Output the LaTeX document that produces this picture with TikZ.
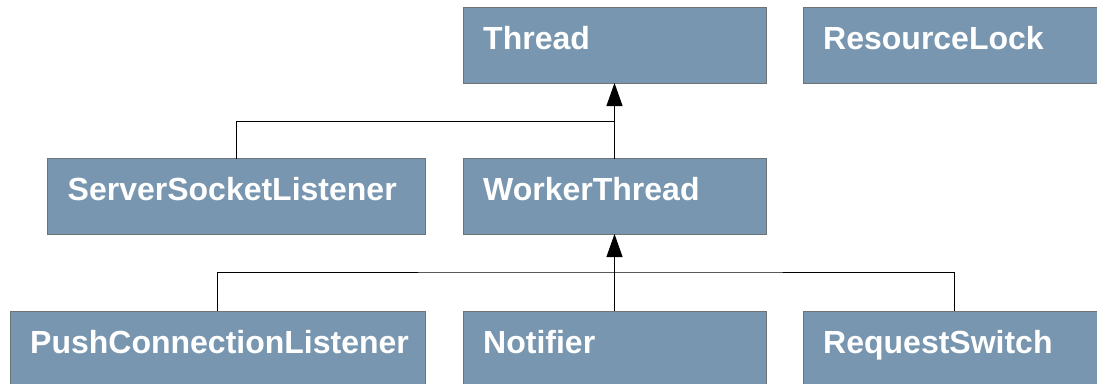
\documentclass[tikz,border=0pt]{standalone}
\usepackage{fontspec}
\setmainfont{Liberation Sans}
\usetikzlibrary{arrows.meta}
\definecolor{boxfill}{RGB}{120,150,176}
\definecolor{boxline}{RGB}{110,115,120}
\tikzset{
  cls/.style={draw=boxline, line width=0.9pt, fill=boxfill, anchor=north west,
    minimum height=75.5pt, inner sep=0pt, outer sep=0pt},
  clsname/.style={anchor=base west, text=white, inner sep=0pt,
    font=\fontsize{32}{36}\selectfont\bfseries, xshift=20pt, yshift=-42pt},
  inherit/.style={draw=black, line width=0.9pt},
  isa/.style={inherit, -{Triangle[width=16pt,length=23pt]}},
}
\begin{document}
\begin{tikzpicture}[x=1pt, y=-1pt]
  \useasboundingbox (0,0) rectangle (1097,383);
  \clip (0,0) rectangle (1097,383);

  % class boxes
  \node[cls, minimum width=303pt, label={[clsname]north west:Thread}] (th) at (463,7.5) {};
  \node[cls, minimum width=303pt, label={[clsname]north west:ResourceLock}] (rl) at (803,7.5) {};
  \node[cls, minimum width=378pt, label={[clsname]north west:ServerSocketListener}] (ssl) at (47.5,158.5) {};
  \node[cls, minimum width=303pt, label={[clsname]north west:WorkerThread}] (wt) at (463,158.5) {};
  \node[cls, minimum width=415.5pt, label={[clsname]north west:PushConnectionListener}] (pcl) at (10,311) {};
  \node[cls, minimum width=303pt, label={[clsname]north west:Notifier}] (no) at (463,311) {};
  \node[cls, minimum width=303pt, label={[clsname]north west:RequestSwitch}] (rs) at (803,311) {};

  % junctions of the inheritance trees
  \coordinate (j1) at (614.5,121);
  \coordinate (j2) at (614.5,272);

  % Thread subclasses
  \draw[isa] (wt.north) -- (th.south);
  \draw[inherit] (ssl.north) |- (j1);

  % WorkerThread subclasses
  \draw[isa] (no.north) -- (wt.south);
  \draw[inherit] (pcl.north) |- (j2) -| (rs.north);
\end{tikzpicture}
\end{document}
